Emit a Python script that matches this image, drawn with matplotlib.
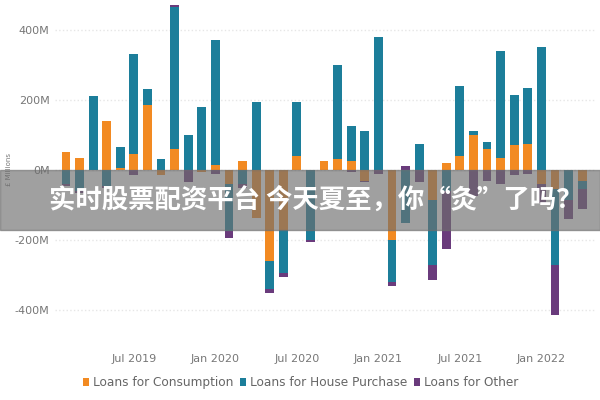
import matplotlib
matplotlib.use("Agg")
import matplotlib.pyplot as plt
import numpy as np

months = list(range(39))  # Feb 2019 .. Apr 2022
consumption = [50, 35, 0, 140, 5, 45, 185, -15, 60, 0, -5, 15, -40, 25, -137, -260, -170, 40, 0, 25,
               30, 25, -30, 0, -200, 0, 0, -85, 20, 40, 100, 60, 35, 70, 75, -40, -55, 0, -30]
house = [-40, -60, 210, -45, 60, 285, 45, 30, 405, 100, 180, 355, -135, -40, 195, -80, -125, 155, -200, 0,
         270, 100, 110, 380, -120, -150, 75, -185, -60, 200, 10, 20, 305, 145, 160, 350, -215, -85, -25]
other = [-5, -5, 0, -5, 0, -15, 0, 0, 5, -35, 0, -10, -20, -10, 0, -10, -10, 0, -5, 0,
         0, -5, -5, -10, -10, 10, -35, -45, -165, 0, -75, -30, -40, -15, -10, -55, -145, -55, -55]
tick_pos = [5, 11, 17, 23, 29, 35]
tick_labels = ["Jul 2019", "Jan 2020", "Jul 2020", "Jan 2021", "Jul 2021", "Jan 2022"]
series = [("Loans for Consumption", consumption, "#F28A22"),
          ("Loans for House Purchase", house, "#1C7E9A"),
          ("Loans for Other", other, "#6A3B7C")]

fig = plt.figure(figsize=(6, 4), dpi=100)
ax = fig.add_axes([55/600, 0.1625, 540/600, 0.825])
x = np.array(months)
pos_base = np.zeros(len(x)); neg_base = np.zeros(len(x))
for name, vals, col in series:
    v = np.array(vals, dtype=float)
    base = np.where(v >= 0, pos_base, neg_base)
    ax.bar(x, v, 0.65, bottom=base, color=col, label=name)
    pos_base += np.where(v >= 0, v, 0); neg_base += np.where(v < 0, v, 0)

ax.set_xlim(-0.81, 38.95)
ax.set_ylim(-471, 471)
ax.set_yticks([-400, -200, 0, 200, 400])
ax.set_yticklabels(["-400M", "-200M", "0M", "200M", "400M"], color="#777777", fontsize=8)
ax.set_xticks(tick_pos)
ax.set_xticklabels(tick_labels, color="#777777", fontsize=8)
ax.tick_params(length=0, pad=14, axis="x")
ax.tick_params(length=0, axis="y", pad=4)
ax.yaxis.grid(True, color="#e6e6e6", linestyle=":", linewidth=1)
ax.set_axisbelow(True)
for s in ax.spines.values():
    s.set_visible(False)
ax.set_ylabel("£ Millions", fontsize=5, color="#777777", labelpad=2)

fig.legend(loc="lower left", bbox_to_anchor=(0.12, 0.0), ncol=3, frameon=False, fontsize=8.7,
           handlelength=0.5, handletextpad=0.3, columnspacing=0.6, labelcolor="#666666")

fig.patches.append(plt.Rectangle((0, 170/400), 1, 60/400, transform=fig.transFigure,
                                 color="#6e6e6e", alpha=0.65, zorder=10))
fig.text(0.527, 200/400, "实时股票配资平台 今天夏至，你“灸”了吗？", ha="center", va="center",
         color="white", fontsize=19, fontweight="bold", zorder=11,
         family=["Noto Sans CJK SC", "DejaVu Sans"])
fig.savefig("out.png", dpi=100)
